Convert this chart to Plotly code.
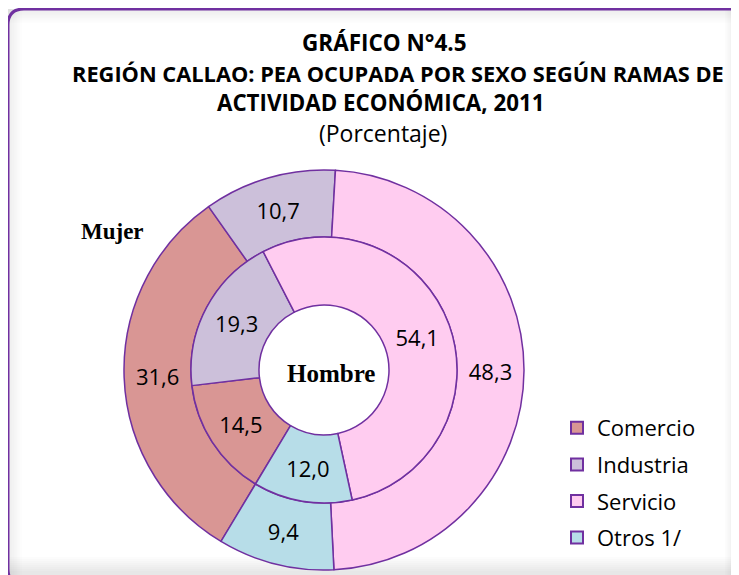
import plotly.graph_objects as go

# ---- data ----
categories = ["Comercio", "Industria", "Servicio", "Otros 1/"]
mujer_values = [31.6, 10.7, 48.3, 9.4]     # outer ring
hombre_values = [14.5, 19.3, 54.1, 12.0]   # inner ring
colors = ["#D99694", "#CCC0DA", "#FFCCF0", "#B7DDE8"]
title_lines = ["GRÁFICO N°4.5",
               "REGIÓN CALLAO: PEA OCUPADA POR SEXO SEGÚN RAMAS DE",
               "ACTIVIDAD ECONÓMICA, 2011"]
subtitle = "(Porcentaje)"

# The page body has an 8px margin, so the figure is 8px smaller and
# coordinates below are expressed in window (screen) pixels.
OFF = 8
SW, SH = 739, 575
W, H = SW - OFF, SH - OFF
PURPLE = "#7030A0"
FONT = "Open Sans"

def dom_x(a, b):
    return [(a - OFF) / W, (b - OFF) / W]

def dom_y(top, bottom):
    return [(SH - bottom) / H, (SH - top) / H]

cx, cy = 324, 370
R_out, R_mid, R_hole = 200, 133, 65

fig = go.Figure()

# outer ring (Mujer)
fig.add_trace(go.Pie(
    labels=categories, values=mujer_values, sort=False, direction="clockwise",
    rotation=211, hole=R_mid / R_out,
    domain=dict(x=dom_x(cx - R_out, cx + R_out), y=dom_y(cy - R_out, cy + R_out)),
    marker=dict(colors=colors, line=dict(color=PURPLE, width=1.5)),
    texttemplate="%{value:.1f}", textposition="inside", insidetextorientation="horizontal",
    textfont=dict(family=FONT, size=22, color="black"),
    showlegend=False, hoverinfo="label+value"))

# inner ring (Hombre)
fig.add_trace(go.Pie(
    labels=categories, values=hombre_values, sort=False, direction="clockwise",
    rotation=211, hole=R_hole / R_mid,
    domain=dict(x=dom_x(cx - R_mid, cx + R_mid), y=dom_y(cy - R_mid, cy + R_mid)),
    marker=dict(colors=colors, line=dict(color=PURPLE, width=1.5)),
    texttemplate="%{value:.1f}", textposition="inside", insidetextorientation="horizontal",
    textfont=dict(family=FONT, size=22, color="black"),
    showlegend=False, hoverinfo="label+value"))

# legend entries
for cat, col in zip(categories, colors):
    fig.add_trace(go.Scatter(
        x=[None], y=[None], mode="markers", name=cat, legendgroup=cat,
        marker=dict(symbol="square", size=14, color=col, line=dict(color=PURPLE, width=2)),
        showlegend=True))

annotations = []
ys = [42, 73, 102]
xs = [384, 398, 380]
sizes = [22.5, 21.8, 22.3]
for t, y, x, s in zip(title_lines, ys, xs, sizes):
    annotations.append(dict(x=x, y=y, xref="x", yref="y", text="<b>" + t + "</b>",
                            showarrow=False, font=dict(family=FONT, size=s, color="black"),
                            xanchor="center", yanchor="middle"))
annotations.append(dict(x=383, y=133, xref="x", yref="y", text=subtitle, showarrow=False,
                        font=dict(family=FONT, size=23, color="black"),
                        xanchor="center", yanchor="middle"))
annotations.append(dict(x=112, y=231, xref="x", yref="y", text="<b>Mujer</b>", showarrow=False,
                        font=dict(family="Liberation Serif", size=23, color="black"),
                        xanchor="center", yanchor="middle"))
annotations.append(dict(x=331, y=373, xref="x", yref="y", text="<b>Hombre</b>", showarrow=False,
                        font=dict(family="Liberation Serif", size=25, color="black"),
                        xanchor="center", yanchor="middle"))

# frame with soft inner shadow
x0, y0, x1, y1, r = 8, 9, 747, 585, 16
def rounded(x0, y0, x1, y1, r):
    return (f"M {x0+r},{y0} L {x1-r},{y0} Q {x1},{y0} {x1},{y0+r} L {x1},{y1-r} "
            f"Q {x1},{y1} {x1-r},{y1} L {x0+r},{y1} Q {x0},{y1} {x0},{y1-r} "
            f"L {x0},{y0+r} Q {x0},{y0} {x0+r},{y0} Z")

shapes = []
for i in range(8):
    shapes.append(dict(type="rect", xref="x", yref="y", x0=0, x1=SW, y0=SH - 18 + i * 2, y1=SH,
                       fillcolor="rgba(0,0,0,0.012)", line=dict(width=0), layer="below"))
    shapes.append(dict(type="rect", xref="x", yref="y", x0=SW - 14 + i * 1.6, x1=SW, y0=0, y1=SH,
                       fillcolor="rgba(0,0,0,0.010)", line=dict(width=0), layer="below"))
    shapes.append(dict(type="rect", xref="x", yref="y", x0=x0, x1=x0 + 14 - i * 1.6, y0=y0, y1=SH,
                       fillcolor="rgba(0,0,0,0.008)", line=dict(width=0), layer="below"))
    shapes.append(dict(type="rect", xref="x", yref="y", x0=x0, x1=SW, y0=y0, y1=y0 + 14 - i * 1.6,
                       fillcolor="rgba(0,0,0,0.008)", line=dict(width=0), layer="below"))
shapes.append(dict(type="path", path=rounded(x0, y0, x1, y1, r), xref="x", yref="y",
                   line=dict(color=PURPLE, width=3), layer="below"))

fig.update_layout(
    width=W, height=H, margin=dict(l=0, r=0, t=0, b=0),
    paper_bgcolor="white", plot_bgcolor="white",
    separators=",.",
    xaxis=dict(range=[OFF, SW], visible=False, fixedrange=True),
    yaxis=dict(range=[SH, OFF], visible=False, fixedrange=True),
    shapes=shapes,
    annotations=annotations,
    legend=dict(x=(557 - OFF) / W, y=(SH - 407) / H, xanchor="left", yanchor="top",
                font=dict(family=FONT, size=22, color="black"),
                tracegroupgap=5, bgcolor="rgba(0,0,0,0)", itemsizing="constant"),
)

fig.write_html("out.html")
